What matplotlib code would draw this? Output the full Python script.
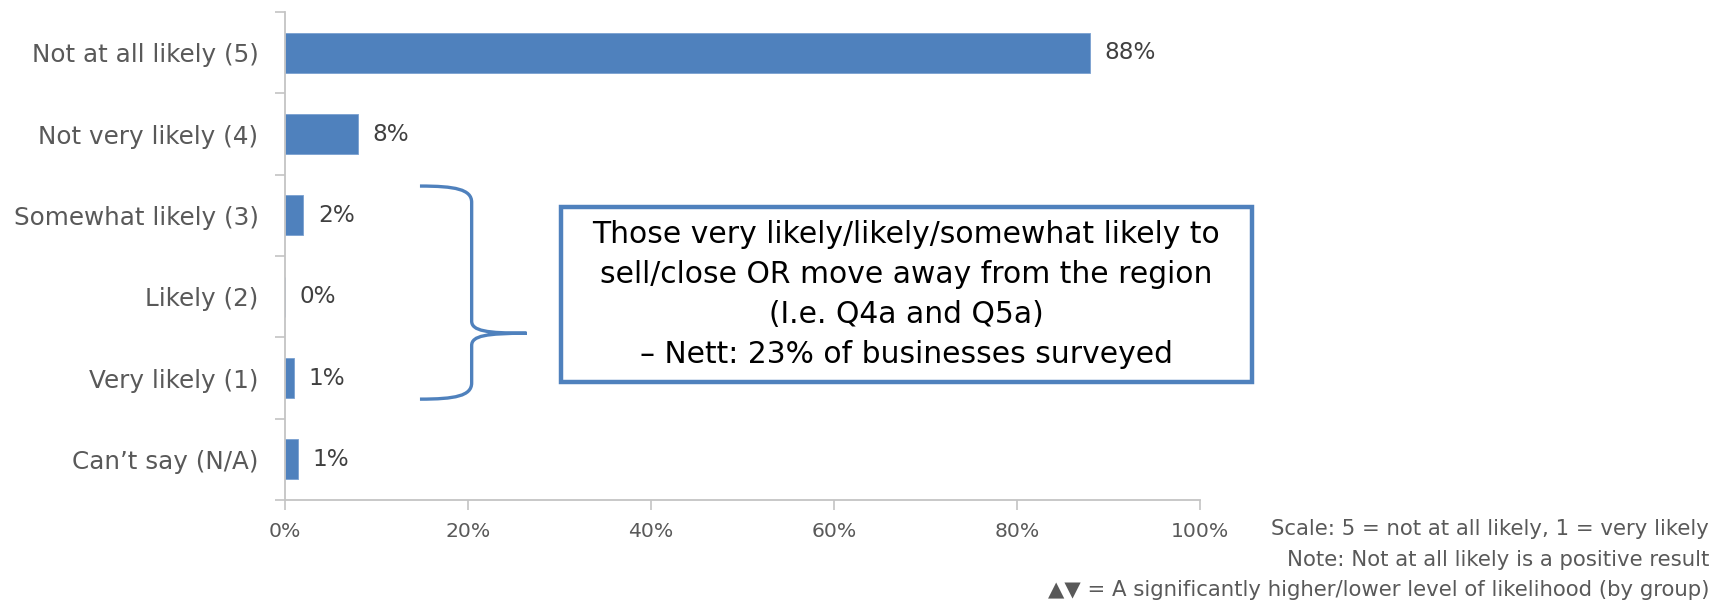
import matplotlib
matplotlib.use("Agg")
import matplotlib.pyplot as plt
from matplotlib.path import Path
from matplotlib.patches import PathPatch, Rectangle
import numpy as np

# Likelihood of selling/closing or leaving the region
categories = ["Not at all likely (5)", "Not very likely (4)", "Somewhat likely (3)",
              "Likely (2)", "Very likely (1)", "Can\u2019t say (N/A)"]
shares = [88, 8, 2, 0, 1, 1.4]
x_ticks = [0, 20, 40, 60, 80, 100]
x_tick_labels = ["0%", "20%", "40%", "60%", "80%", "100%"]

callout_lines = ["Those very likely/likely/somewhat likely to",
                 "sell/close OR move away from the region",
                 "(I.e. Q4a and Q5a)",
                 "\u2013 Nett: 23% of businesses surveyed"]
footnotes = ["Scale: 5 = not at all likely, 1 = very likely",
             "Note: Not at all likely is a positive result",
             "\u25B2\u25BC = A significantly higher/lower level of likelihood (by group)"]

blue = "#4f81bd"
grey_text = "#595959"
axis_grey = "#c4c4c4"

W, H = 1714, 601
fig = plt.figure(figsize=(W / 100, H / 100), dpi=100)
ax = fig.add_axes([285 / W, 1 - 500 / H, 915 / W, 488 / H])

y = np.arange(len(categories))
ax.barh(y, shares, height=0.49, color=blue, edgecolor="#7aa0d0", linewidth=0.6)
for yi, v in zip(y, shares):
    ax.text(v + 1.6, yi, f"{v:.0f}%", va="center", ha="left",
            fontsize=16.7, color="#404040")

ax.set_xlim(0, 100)
ax.set_ylim(len(categories) - 0.5, -0.5)

ax.set_yticks(y)
ax.set_yticklabels(categories, fontsize=17.7, color=grey_text)
ax.set_yticks(np.arange(-0.5, len(categories)), minor=True)
ax.tick_params(axis="y", which="major", length=0, pad=19)
ax.tick_params(axis="y", which="minor", length=7, width=1.2, color=axis_grey, direction="out")

ax.set_xticks(x_ticks)
ax.set_xticklabels(x_tick_labels, fontsize=14.7, color=grey_text)
ax.tick_params(axis="x", length=7, width=1.2, color=axis_grey, pad=9)

for side in ["top", "right"]:
    ax.spines[side].set_visible(False)
for side in ["left", "bottom"]:
    ax.spines[side].set_color(axis_grey)
    ax.spines[side].set_linewidth(1.3)

# curly brace grouping the "likely" answers
brace = Path(
    [(14.75, 1.64), (18.6, 1.64), (20.4, 1.68), (20.4, 1.84),
     (20.4, 3.30),
     (20.4, 3.42), (22.0, 3.45), (26.4, 3.45),
     (22.0, 3.45), (20.4, 3.48), (20.4, 3.60),
     (20.4, 4.06),
     (20.4, 4.22), (18.6, 4.26), (14.75, 4.26)],
    [Path.MOVETO, Path.CURVE4, Path.CURVE4, Path.CURVE4,
     Path.LINETO,
     Path.CURVE4, Path.CURVE4, Path.CURVE4,
     Path.CURVE4, Path.CURVE4, Path.CURVE4,
     Path.LINETO,
     Path.CURVE4, Path.CURVE4, Path.CURVE4])
ax.add_patch(PathPatch(brace, facecolor="none", edgecolor=blue, linewidth=2.4,
                       clip_on=False, capstyle="butt"))

# callout box
ax.add_patch(Rectangle((30.2, 1.90), 75.5, 2.15, facecolor="white", edgecolor=blue,
                       linewidth=3.2, clip_on=False, zorder=3))
ax.text(67.9, 2.97, "\n".join(callout_lines), ha="center", va="center",
        fontsize=21.4, color="black", linespacing=1.48, zorder=4, clip_on=False)

for i, line in enumerate(footnotes):
    fig.text(1709 / W, 1 - (529 + 30.5 * i) / H, line, ha="right", va="center",
             fontsize=15.3, color=grey_text)

fig.savefig("out.png", dpi=100)
